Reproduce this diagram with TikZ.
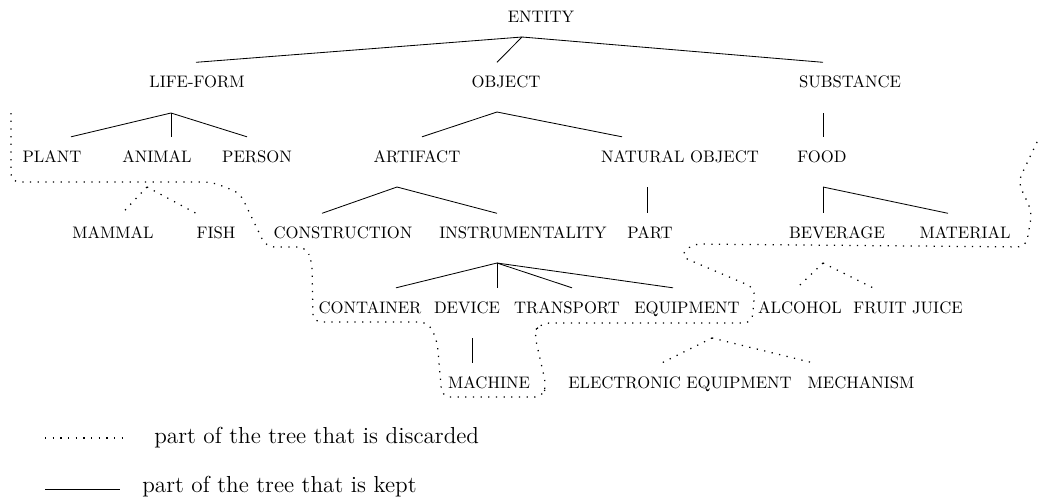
\documentclass[tikz,border=0pt]{standalone}
\usetikzlibrary{calc}
\tikzset{
    tag/.style={inner sep=0pt,outer ysep=8.4pt,text height=6.83pt,text depth=0pt},
    kept/.style={line width=0.5pt},
    dropped/.style={line width=0.75pt,dash pattern=on 0.75pt off 3.85pt},
}

\begin{document}
\begin{tikzpicture}[x=0.6pt,y=-0.6pt]
            \useasboundingbox (0,0) rectangle (1042,498);
            \node[tag] (entity) at (541,16.5) {ENTITY};
            \node[tag] (lifeform) at (197,82) {LIFE-FORM};
            \node[tag] (object) at (506,82) {OBJECT};
            \node[tag] (substance) at (850,82) {SUBSTANCE};
            \node[tag] (plant) at (52,156.5) {PLANT};
            \node[tag] (animal) at (157,156.5) {ANIMAL};
            \node[tag] (person) at (257,156.5) {PERSON};
            \node[tag] (artifact) at (417,156.5) {ARTIFACT};
            \node[tag] (natobj) at (680,156.5) {NATURAL OBJECT};
            \node[tag] (food) at (822,156.5) {FOOD};
            \node[tag] (mammal) at (113,233) {MAMMAL};
            \node[tag] (fish) at (216,233) {FISH};
            \node[tag] (construction) at (343,233) {CONSTRUCTION};
            \node[tag] (instrum) at (523,233) {INSTRUMENTALITY};
            \node[tag] (part) at (650,233) {PART};
            \node[tag] (beverage) at (837,233) {BEVERAGE};
            \node[tag] (material) at (965,233) {MATERIAL};
            \node[tag] (container) at (370,307.5) {CONTAINER};
            \node[tag] (device) at (467,307.5) {DEVICE};
            \node[tag] (transport) at (567,307.5) {TRANSPORT};
            \node[tag] (equipment) at (687,307.5) {EQUIPMENT};
            \node[tag] (alcohol) at (800,307.5) {ALCOHOL};
            \node[tag] (fruit) at (908,307.5) {FRUIT JUICE};
            \node[tag] (machine) at (489,382.5) {MACHINE};
            \node[tag] (electronic) at (680,382.5) {ELECTRONIC EQUIPMENT};
            \node[tag] (mechanism) at (861,382.5) {MECHANISM};

            \coordinate (hEnt) at (522,37);
            \coordinate (hLife) at (171,113);
            \coordinate (hObj) at (497,112);
            \coordinate (hSub) at (823,113);
            \coordinate (hAni) at (147,187);
            \coordinate (hArt) at (397,187);
            \coordinate (hNat) at (647,187);
            \coordinate (hFood) at (823,187);
            \coordinate (hIns) at (497,263);
            \coordinate (hBev) at (823,263);
            \coordinate (hDev) at (472,338);
            \coordinate (hEqu) at (712,338);

            \foreach \c/\d in {lifeform/-1,object/-9,substance/-27}
                \draw[kept] (hEnt) -- ($(\c.north)+(\d,0)$);
            \foreach \c/\d in {plant/19,animal/14,person/-10}
                \draw[kept] (hLife) -- ($(\c.north)+(\d,0)$);
            \foreach \c/\d in {artifact/5,natobj/-58}
                \draw[kept] (hObj) -- ($(\c.north)+(\d,0)$);
            \draw[kept] (hSub) -- ($(food.north)+(1,0)$);
            \foreach \c/\d in {construction/-21,instrum/-26}
                \draw[kept] (hArt) -- ($(\c.north)+(\d,0)$);
            \draw[kept] (hNat) -- ($(part.north)+(-3,0)$);
            \foreach \c/\d in {beverage/-14,material/-17}
                \draw[kept] (hFood) -- ($(\c.north)+(\d,0)$);
            \foreach \c/\d in {container/26,device/30,transport/5,equipment/-14}
                \draw[kept] (hIns) -- ($(\c.north)+(\d,0)$);
            \draw[kept] (hDev) -- ($(machine.north)+(-17,0)$);

            \foreach \c/\d in {mammal/9,fish/-20}
                \draw[dropped] (hAni) -- ($(\c.north)+(\d,0)$);
            \foreach \c/\d in {alcohol/-3,fruit/-35}
                \draw[dropped] (hBev) -- ($(\c.north)+(\d,0)$);
            \foreach \c/\d in {electronic/-18,mechanism/-48}
                \draw[dropped] (hEqu) -- ($(\c.north)+(\d,0)$);

            \draw[dropped,rounded corners=5pt] (11,113) -- (11,182) -- (212,182) -- (240,193)
                -- (266,247) -- (306,247) -- (312,262) -- (313,322) -- (428,322) -- (437,340)
                -- (442,397) -- (543,397) -- (546,385) -- (534,332) -- (541,323) -- (752,323)
                -- (755,288) -- (680,256) -- (692,244) -- (1026,247) -- (1032,212)
                -- (1018,182) -- (1038,140);

            \coordinate (dropA) at (45,438);
            \coordinate (dropB) at (122,438);
            \coordinate (keptA) at (45,489);
            \coordinate (keptB) at (120,489);
            \draw[dropped] (dropA) -- (dropB);
            \draw[kept] (keptA) -- (keptB);
            \node[anchor=base west,inner sep=0pt,font=\fontsize{13.9}{16}\selectfont] (dropText) at (154,443) {part of the tree that is discarded};
            \node[anchor=base west,inner sep=0pt,font=\fontsize{13.9}{16}\selectfont] (keptText) at (142,492) {part of the tree that is kept};
        \end{tikzpicture}
\end{document}
